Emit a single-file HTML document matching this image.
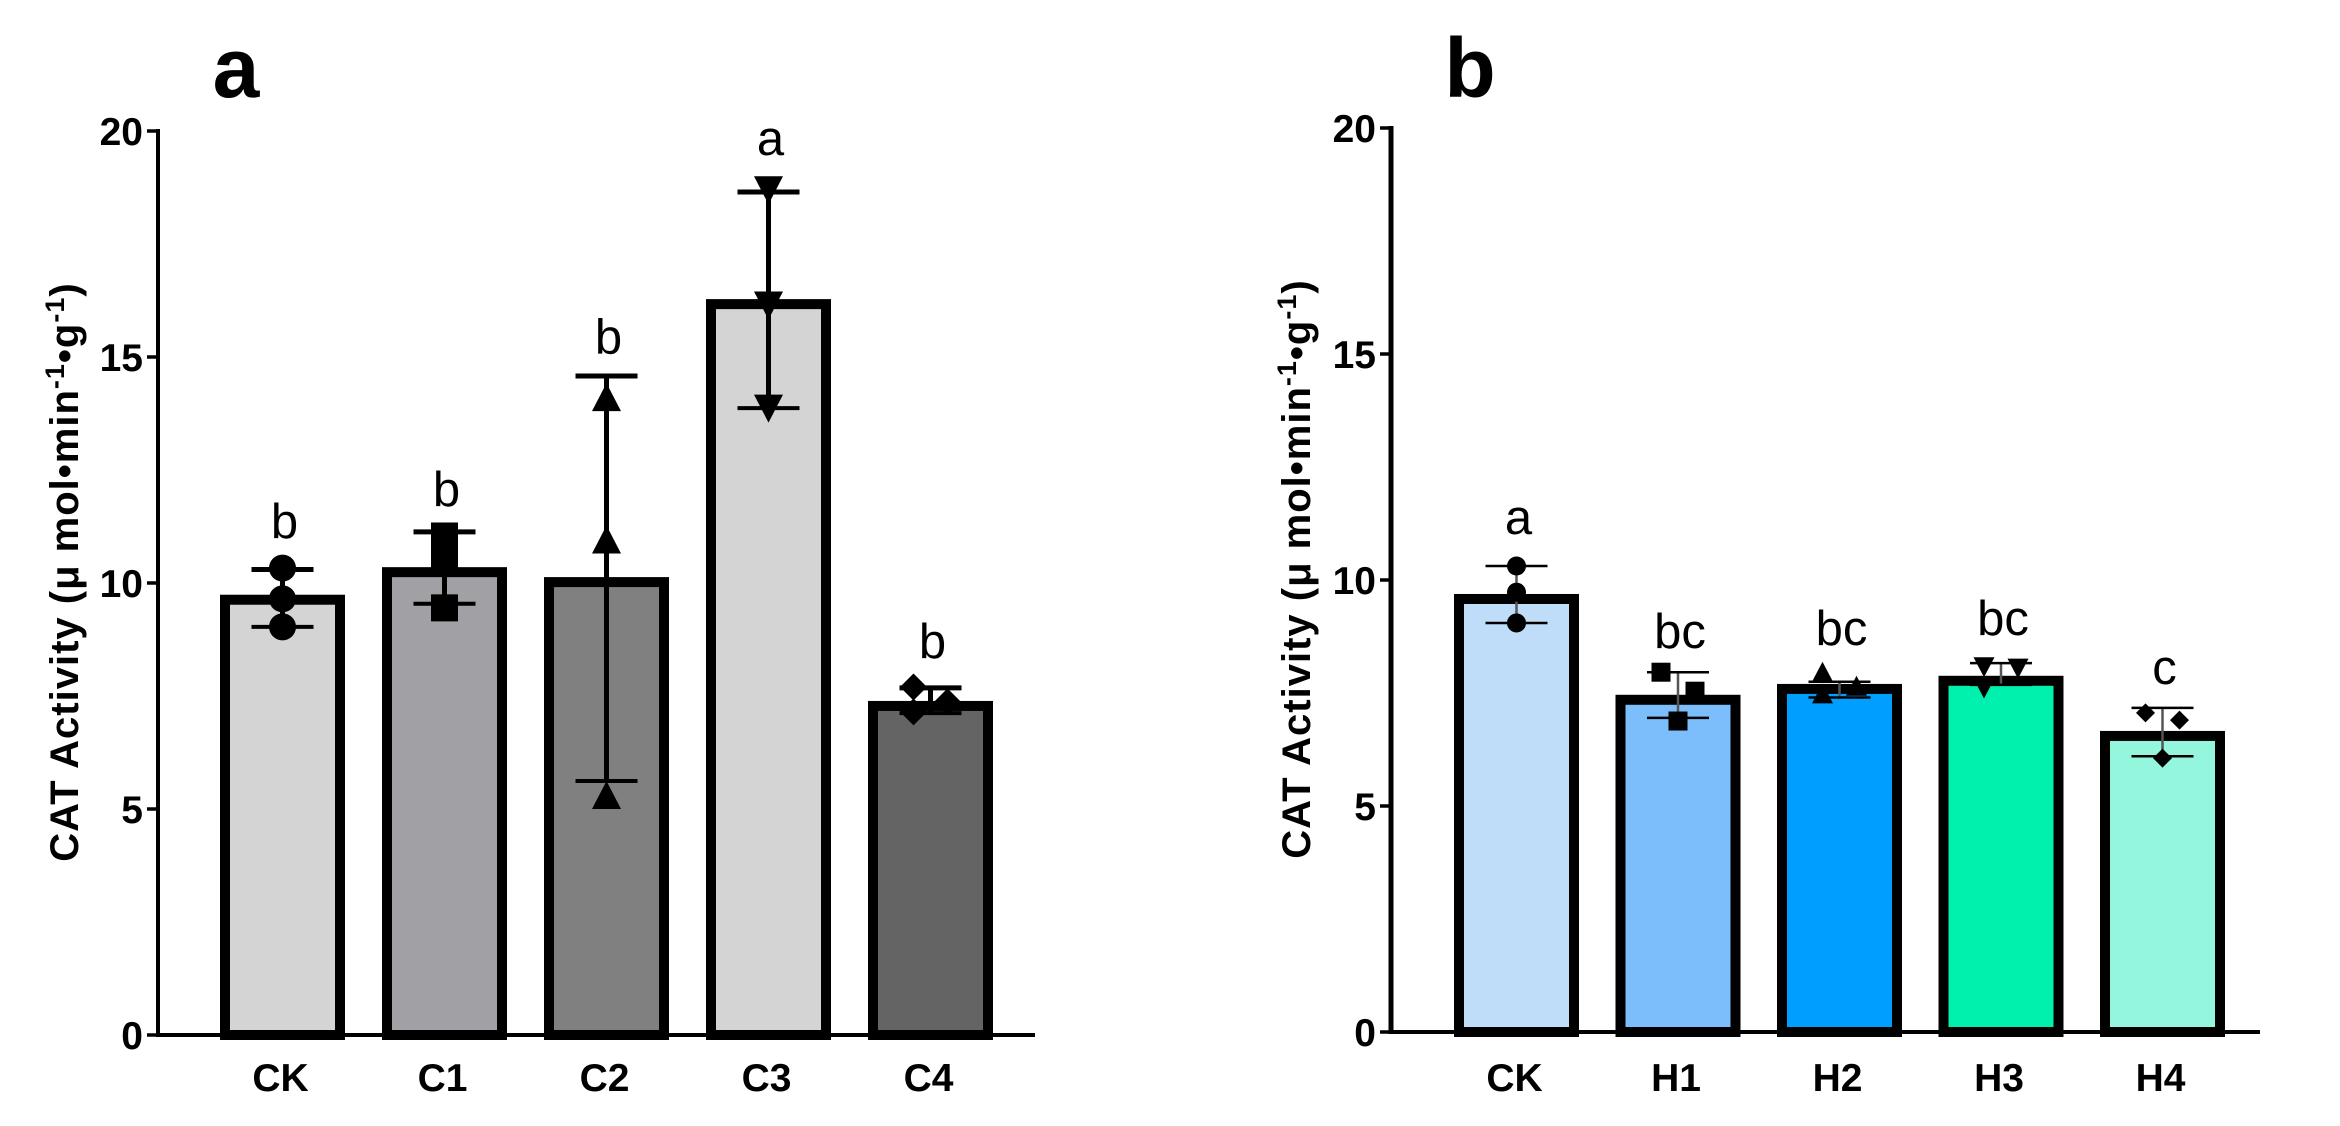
<!DOCTYPE html>
<html lang="en">
<head>
<meta charset="utf-8">
<title>CAT Activity</title>
<style>
html,body{margin:0;padding:0;background:#fff;width:2340px;height:1126px;overflow:hidden}
svg{display:block}
text{font-family:"Liberation Sans",sans-serif;fill:#000}
.tick{font-size:39px;font-weight:700}
.cat{font-size:39px;font-weight:700;text-anchor:middle}
.sig{font-size:49px;text-anchor:middle}
.panel{font-size:84px;font-weight:700;text-anchor:middle}
.ytitle{font-size:40px;font-weight:700;text-anchor:middle;letter-spacing:1px}
.sup{font-size:27px}
</style>
</head>
<body>
<svg id="chart" xmlns="http://www.w3.org/2000/svg" width="2340" height="1126" viewBox="0 0 2340 1126">
  <rect width="2340" height="1126" fill="#ffffff"/>
  <text class="panel" x="236" y="97">a</text>
  <text class="panel" x="1470" y="97">b</text>
  <text class="ytitle" transform="translate(78,572) rotate(-90)">CAT Activity (μ mol•min<tspan class="sup" dy="-14">-1</tspan><tspan dy="14">•g</tspan><tspan class="sup" dy="-14">-1</tspan><tspan dy="14">)</tspan></text>
  <text class="ytitle" transform="translate(1310,569) rotate(-90)">CAT Activity (μ mol•min<tspan class="sup" dy="-14">-1</tspan><tspan dy="14">•g</tspan><tspan class="sup" dy="-14">-1</tspan><tspan dy="14">)</tspan></text>
</svg>
<script>
// ---------- shared axis values ----------
var tickValues = [0, 5, 10, 15, 20];
var tickLabels = ['0', '5', '10', '15', '20'];

// ---------- panel a ----------
var aCategories = ['CK', 'C1', 'C2', 'C3', 'C4'];
var aMeans = [9.63, 10.24, 10.02, 16.17, 7.28];
var aUpper = [10.3, 11.13, 14.58, 18.65, 7.68];
var aLower = [9.03, 9.54, 5.62, 13.87, 7.12];
var aPoints = [
  [10.33, 9.65, 9.03],
  [11.04, 10.62, 9.45],
  [14.1, 10.95, 5.3],
  [18.7, 16.15, 13.87],
  [7.7, 7.37, 7.15]
];
var aLetters = ['b', 'b', 'b', 'a', 'b'];
var aLetterLevels = [11.0, 11.7, 15.08, 19.47, 8.34];
var aFills = ['#d4d4d4', '#a0a0a5', '#808080', '#d4d4d4', '#646464'];

// ---------- panel b ----------
var bCategories = ['CK', 'H1', 'H2', 'H3', 'H4'];
var bMeans = [9.58, 7.35, 7.59, 7.77, 6.55];
var bUpper = [10.31, 7.96, 7.75, 8.16, 7.17];
var bLower = [9.05, 6.95, 7.4, 7.68, 6.1];
var bPoints = [
  [10.31, 9.73, 9.05],
  [7.96, 7.54, 6.88],
  [7.96, 7.65, 7.48],
  [8.08, 8.05, 7.61],
  [7.06, 6.9, 6.06]
];
var bLetters = ['a', 'bc', 'bc', 'bc', 'c'];
var bLetterLevels = [11.02, 8.5, 8.56, 8.78, 7.7];
var bFills = ['#bfdcf8', '#7cbdfb', '#009efe', '#00f0ae', '#95f6de'];

var markerShapes = ['circle', 'square', 'up', 'down', 'diamond'];

var svg = document.getElementById('chart');
var NS = 'http://www.w3.org/2000/svg';

function mk(tag, attrs, parent) {
  var el = document.createElementNS(NS, tag);
  for (var k in attrs) { el.setAttribute(k, attrs[k]); }
  parent.appendChild(el);
  return el;
}

function swarmOffsets(vals, spread, gap) {
  var idx = vals.map(function (v, i) { return i; }).sort(function (p, q) { return vals[q] - vals[p]; });
  var out = vals.map(function () { return 0; });
  var chain = [];
  function flush() {
    if (chain.length > 1) {
      chain.forEach(function (id, n) { out[id] = n % 2 === 0 ? -spread : spread; });
    }
    chain = [];
  }
  idx.forEach(function (id, n) {
    if (n > 0 && vals[idx[n - 1]] - vals[id] >= gap) { flush(); }
    chain.push(id);
  });
  flush();
  return out;
}

function drawMarker(g, shape, cx, cy, s) {
  var h = s / 2, el;
  if (shape === 'circle') {
    el = mk('circle', { cx: cx, cy: cy, r: h }, g);
  } else if (shape === 'square') {
    el = mk('rect', { x: cx - h, y: cy - h, width: s, height: s }, g);
  } else if (shape === 'up') {
    el = mk('polygon', { points: [cx, cy - h - 1, cx + h + 1, cy + h, cx - h - 1, cy + h].join(' ') }, g);
  } else if (shape === 'down') {
    el = mk('polygon', { points: [cx, cy + h + 1, cx + h + 1, cy - h, cx - h - 1, cy - h].join(' ') }, g);
  } else {
    el = mk('polygon', { points: [cx, cy - h, cx + h, cy, cx, cy + h, cx - h, cy].join(' ') }, g);
  }
  el.setAttribute('fill', '#000');
  
  
  return el;
}

function drawPanel(cfg) {
  var y = function (v) { return cfg.y0 - v * cfg.unit; };
  var x = function (i) { return cfg.x0 + i * cfg.step; };
  var root = mk('g', {}, svg);
  
  

  // bars
  cfg.means.forEach(function (m, i) {
    var bar = mk('rect', {
      x: x(i) - 57.5, y: y(m), width: 115, height: y(0) - y(m),
      fill: cfg.fills[i], stroke: '#000', 'stroke-width': 10
    }, root);
    
    
  });

  // axes
  var yAxis = mk('line', { x1: cfg.axisX, x2: cfg.axisX, y1: y(20) - 2, y2: y(0) + 2, stroke: '#000', 'stroke-width': cfg.axisW }, root);
  
  
  var xAxis = mk('line', { x1: cfg.axisX, x2: cfg.axisEnd, y1: y(0), y2: y(0), stroke: '#000', 'stroke-width': 4 }, root);
  
  

  tickValues.forEach(function (v, i) {
    var t = mk('line', { x1: cfg.axisX - 11, x2: cfg.axisX, y1: y(v), y2: y(v), stroke: '#000', 'stroke-width': 3.5 }, root);
    
    
    var l = mk('text', { x: cfg.axisX - 15, y: y(v) + 14, 'text-anchor': 'end', 'class': 'tick' }, root);
    l.textContent = tickLabels[i];
    
    
  });

  // error bars
  cfg.means.forEach(function (m, i) {
    var cx = x(i);
    var stem = mk('line', { x1: cx, x2: cx, y1: y(cfg.upper[i]), y2: y(cfg.lower[i]), stroke: cfg.stemColor, 'stroke-width': cfg.stemW }, root);
    
    
    var capU = mk('line', { x1: cx - 31, x2: cx + 31, y1: y(cfg.upper[i]), y2: y(cfg.upper[i]), stroke: '#000', 'stroke-width': cfg.capW }, root);
    
    
    var capL = mk('line', { x1: cx - 31, x2: cx + 31, y1: y(cfg.lower[i]), y2: y(cfg.lower[i]), stroke: '#000', 'stroke-width': cfg.capLowW }, root);
    
    
  });

  // individual points
  cfg.points.forEach(function (vals, i) {
    var off = swarmOffsets(vals, 17, cfg.swarmGap);
    vals.forEach(function (v, j) {
      drawMarker(root, markerShapes[i], x(i) + off[j], y(v), cfg.marker);
    });
  });

  // significance letters and category labels
  cfg.letters.forEach(function (s, i) {
    var tx = mk('text', { x: x(i) + 2, y: y(cfg.levels[i]), 'class': 'sig' }, root);
    tx.textContent = s;
    
    
    var c = mk('text', { x: x(i) - 2, y: 1091, 'class': 'cat' }, root);
    c.textContent = cfg.cats[i];
    
    
  });
}

drawPanel({
  name: 'panel-a', cats: aCategories, means: aMeans, upper: aUpper, lower: aLower,
  points: aPoints, letters: aLetters, levels: aLetterLevels, fills: aFills,
  y0: 1035, unit: 45.2, x0: 282.5, step: 162, axisX: 158, axisW: 4, axisEnd: 1035,
  stemColor: '#000', stemW: 5, capW: 5, capLowW: 4, marker: 27, swarmGap: 0.4
});
drawPanel({
  name: 'panel-b', cats: bCategories, means: bMeans, upper: bUpper, lower: bLower,
  points: bPoints, letters: bLetters, levels: bLetterLevels, fills: bFills,
  y0: 1032, unit: 45.2, x0: 1516.5, step: 161.5, axisX: 1391, axisW: 5, axisEnd: 2260,
  stemColor: '#555', stemW: 2.5, capW: 2.5, capLowW: 2.5, marker: 19, swarmGap: 0.55
});
</script>
</body>
</html>
